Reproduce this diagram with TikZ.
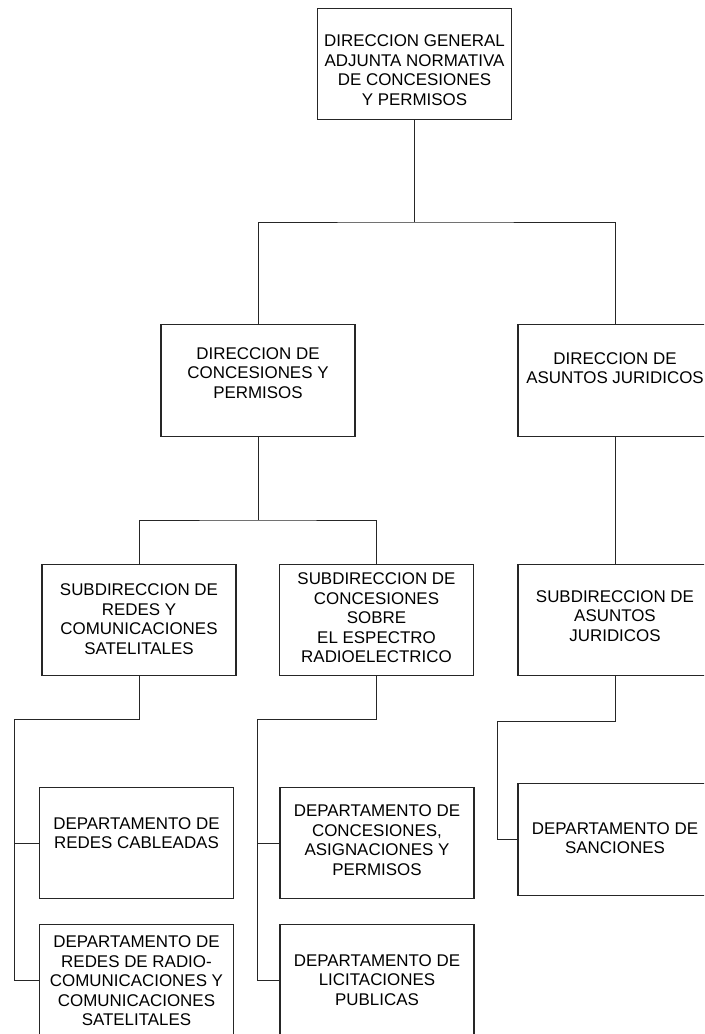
\documentclass[tikz,border=0pt]{standalone}
\usepackage{fontspec}
\setmainfont{Liberation Sans}

\begin{document}
\begin{tikzpicture}[x=0.75pt,y=-0.75pt,
        unit/.style={draw=black!85,line width=0.8pt,minimum width=145.5pt,minimum height=83.5pt,inner sep=0pt},
        lbl/.style={align=center,inner sep=0pt,font=\fontsize{12.7}{14.6}\selectfont},
        link/.style={draw=black!85,line width=0.7pt}]
        \useasboundingbox (0,0) rectangle (704,1034);
        \clip (0,0) rectangle (704,1034);
        \node[unit] (dg)   at (414.5,64)  {};
        \node[unit] (dcp)  at (258,380.5) {};
        \node[unit] (daj)  at (615,380.5) {};
        \node[unit] (srcs) at (139,620)   {};
        \node[unit] (sce)  at (376.5,620) {};
        \node[unit] (saj)  at (615,620)   {};
        \node[unit] (dcab) at (136.5,843) {};
        \node[unit] (drad) at (136.5,980) {};
        \node[unit] (dcap) at (377,843)   {};
        \node[unit] (dlic) at (377,980)   {};
        \node[unit] (dsan) at (615,839.5) {};
        \node[lbl] (dg-t)   at (414.5,70) {DIRECCION GENERAL\\ADJUNTA NORMATIVA\\DE CONCESIONES\\Y PERMISOS};
        \node[lbl] (dcp-t)  at (258,373)  {DIRECCION DE\\CONCESIONES Y\\PERMISOS};
        \node[lbl] (daj-t)  at (615,368)  {DIRECCION DE\\ASUNTOS JURIDICOS};
        \node[lbl] (srcs-t) at (139,619)  {SUBDIRECCION DE\\REDES Y\\COMUNICACIONES\\SATELITALES};
        \node[lbl] (sce-t)  at (376.5,618) {SUBDIRECCION DE\\CONCESIONES\\SOBRE\\EL ESPECTRO\\RADIOELECTRICO};
        \node[lbl] (saj-t)  at (615,616)  {SUBDIRECCION DE\\ASUNTOS\\JURIDICOS};
        \node[lbl] (dcab-t) at (136.5,833) {DEPARTAMENTO DE\\REDES CABLEADAS};
        \node[lbl] (drad-t) at (136.5,981) {DEPARTAMENTO DE\\REDES DE RADIO-\\COMUNICACIONES Y\\COMUNICACIONES\\SATELITALES};
        \node[lbl] (dcap-t) at (377,840)  {DEPARTAMENTO DE\\CONCESIONES,\\ASIGNACIONES Y\\PERMISOS};
        \node[lbl] (dlic-t) at (377,980)  {DEPARTAMENTO DE\\LICITACIONES\\PUBLICAS};
        \node[lbl] (dsan-t) at (615,838)  {DEPARTAMENTO DE\\SANCIONES};
        \coordinate (busTop) at (414.5,222);
        \coordinate (busDcp) at (258,520);
        \coordinate (railA)  at (14,719);
        \coordinate (railB)  at (257,719);
        \coordinate (railC)  at (497,721);
        \draw[link] (dg.south) -- (busTop);
        \draw[link] (dcp.north) |- (busTop) -| (daj.north);
        \draw[link] (dcp.south) -- (busDcp);
        \draw[link] (srcs.north) |- (busDcp) -| (sce.north);
        \draw[link] (daj.south) -- (saj.north);
        \draw[link] (srcs.south) |- (railA) |- (drad.west);
        \draw[link] (railA |- dcab.west) -- (dcab.west);
        \draw[link] (sce.south) |- (railB) |- (dlic.west);
        \draw[link] (railB |- dcap.west) -- (dcap.west);
        \draw[link] (saj.south) |- (railC) |- (dsan.west);
    \end{tikzpicture}
\end{document}
